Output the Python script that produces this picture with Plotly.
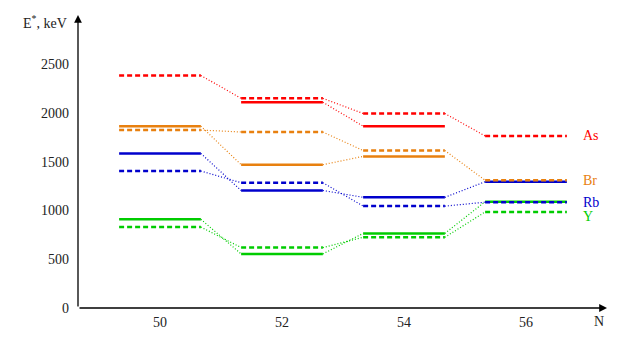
import plotly.graph_objects as go

# Neutron numbers and level energies (keV); None = level not shown
n_values = [50, 52, 54, 56]
elements = ["Y", "Rb", "Br", "As"]  # drawing order (bottom first)
colors = {"As": "#ff0000", "Br": "#e8800f", "Rb": "#0000cc", "Y": "#00cc00"}

solid_levels = {
    "As": [None, 2110, 1865, None],
    "Br": [1865, 1470, 1555, None],
    "Rb": [1585, 1205, 1135, 1295],
    "Y": [910, 555, 765, 1090],
}
dashed_levels = {
    "As": [2385, 2150, 1995, 1765],
    "Br": [1825, 1805, 1615, 1310],
    "Rb": [1405, 1285, 1045, 1085],
    "Y": [830, 620, 725, 985],
}
label_y = {"As": 1765, "Br": 1305, "Rb": 1080, "Y": 940}

y_ticks = [0, 500, 1000, 1500, 2000, 2500]
x_ticks = [50, 52, 54, 56]

half = 0.67
serif = "Times New Roman, Liberation Serif, DejaVu Serif, serif"
fig = go.Figure()

# Dotted connectors between neighbouring levels of the same kind
for el in elements:
    for levels in (solid_levels[el], dashed_levels[el]):
        for i in range(len(n_values) - 1):
            a, b = levels[i], levels[i + 1]
            if a is None or b is None:
                continue
            fig.add_trace(go.Scatter(
                x=[n_values[i] + half, n_values[i + 1] - half], y=[a, b],
                mode="lines", line=dict(color=colors[el], width=1.2, dash="1px,2px"),
                showlegend=False, hoverinfo="skip"))

# Level segments
for el in elements:
    for levels, dash in ((solid_levels[el], "solid"), (dashed_levels[el], "5px,3px")):
        for n, e in zip(n_values, levels):
            if e is None:
                continue
            fig.add_trace(go.Scatter(
                x=[n - half, n + half], y=[e, e], mode="lines",
                line=dict(color=colors[el], width=2.5, dash=dash),
                showlegend=False, hoverinfo="skip"))

# Element labels
for el in elements:
    fig.add_annotation(x=56.9, y=label_y[el], text=el, showarrow=False,
                       xanchor="left", yanchor="middle",
                       font=dict(color=colors[el], size=14, family=serif))

# Axis arrows
fig.add_annotation(x=1, y=0, ax=0, ay=0, xref="x domain", yref="y domain",
                   axref="x domain", ayref="y domain", text="", showarrow=True,
                   arrowhead=2, arrowsize=1.2, arrowwidth=1.3, arrowcolor="black")
fig.add_annotation(x=0, y=1, ax=0, ay=0, xref="x domain", yref="y domain",
                   axref="x domain", ayref="y domain", text="", showarrow=True,
                   arrowhead=2, arrowsize=1.2, arrowwidth=1.3, arrowcolor="black")

# Axis titles
fig.add_annotation(x=-0.017, y=0.975, xref="x domain", yref="y domain",
                   text="E<sup>*</sup>, keV", showarrow=False,
                   xanchor="right", yanchor="middle", font=dict(size=14, family=serif))
fig.add_annotation(x=0.985, y=-0.015, xref="x domain", yref="y domain",
                   text="N", showarrow=False, xanchor="center", yanchor="top",
                   font=dict(size=14, family=serif))

# page body has an 8px margin, so the figure is shrunk by that amount
fig.update_layout(
    width=616, height=335,
    margin=dict(l=70, r=17, t=7, b=35),
    plot_bgcolor="white", paper_bgcolor="white",
    font=dict(family=serif, size=14, color="#222"),
    xaxis=dict(range=[48.656, 57.328], tickvals=x_ticks, showgrid=False,
               zeroline=False, showline=False, ticks="", ticklabelstandoff=4,
               tickfont=dict(family=serif, size=14)),
    yaxis=dict(range=[0, 3005], tickvals=y_ticks, showgrid=False,
               zeroline=False, showline=False, ticks="", ticklabelstandoff=8,
               tickfont=dict(family=serif, size=14)),
)

fig.write_html("out.html")
